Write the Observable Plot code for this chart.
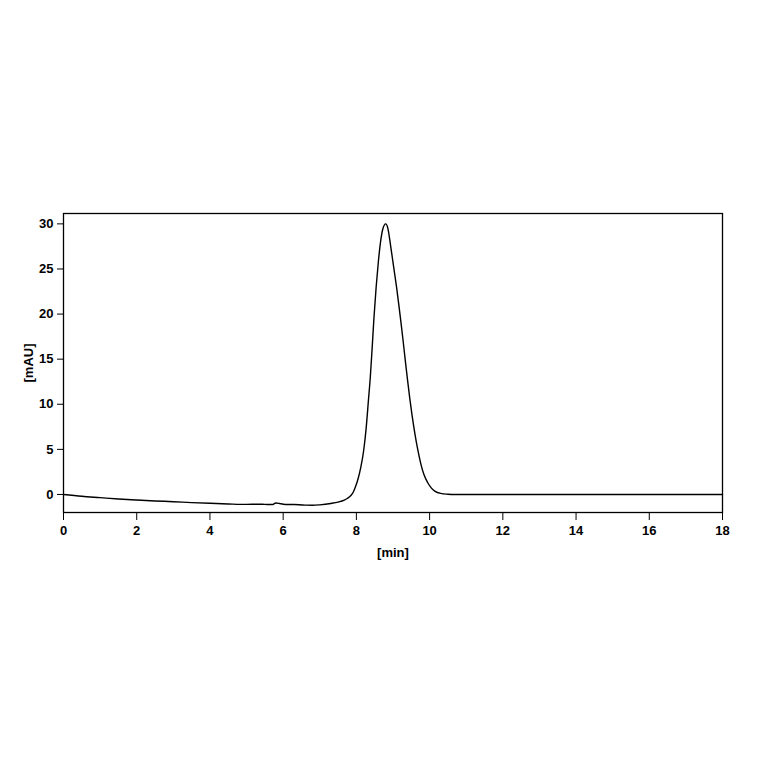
<!DOCTYPE html>
<html>
<head>
<meta charset="utf-8">
<script src="https://cdn.jsdelivr.net/npm/d3@7"></script>
<script src="https://cdn.jsdelivr.net/npm/@observablehq/plot@0.6"></script>
<style>
  html, body { margin: 0; padding: 0; background: #fff; }
</style>
</head>
<body>
<div id="chart"></div>
<script>
const time = [0, 0.5, 1, 1.5, 2, 2.5, 3, 3.5, 4, 4.5, 5, 5.3, 5.5, 5.7, 5.8, 5.9, 6.0, 6.3, 6.6, 6.8, 7.0, 7.3, 7.5, 7.67, 7.75, 7.85, 7.92, 7.98, 8.05, 8.12, 8.2, 8.27, 8.33, 8.38, 8.43, 8.48, 8.54, 8.6, 8.66, 8.72, 8.8, 8.86, 8.92, 8.98, 9.04, 9.1, 9.16, 9.22, 9.28, 9.34, 9.4, 9.46, 9.52, 9.6, 9.67, 9.76, 9.85, 9.95, 10.05, 10.15, 10.3, 10.5, 10.7, 12, 14, 16, 18];
const absorbance = [0, -0.2, -0.35, -0.5, -0.62, -0.72, -0.8, -0.9, -0.98, -1.05, -1.1, -1.08, -1.1, -1.12, -0.95, -1.0, -1.08, -1.12, -1.18, -1.2, -1.15, -1.0, -0.85, -0.63, -0.45, -0.12, 0.3, 0.9, 1.8, 3.0, 4.9, 7.5, 10.5, 13.0, 16.2, 19.6, 23.0, 25.8, 28.0, 29.4, 30.0, 29.5, 28.0, 26.3, 24.6, 22.9, 21.0, 19.0, 16.9, 14.7, 12.6, 10.6, 8.8, 6.7, 5.1, 3.4, 2.15, 1.3, 0.7, 0.35, 0.12, 0.03, 0, 0, 0, 0, 0];
const xTicks = [0, 2, 4, 6, 8, 10, 12, 14, 16, 18];
const yTicks = [0, 5, 10, 15, 20, 25, 30];

const data = time.map((t, i) => ({t, a: absorbance[i]}));

const chart = Plot.plot({
  width: 764,
  height: 764,
  marginLeft: 63,
  marginRight: 42,
  marginTop: 213,
  marginBottom: 252,
  style: {fontFamily: "'Liberation Sans', Arial, sans-serif", fontSize: "13px", fontWeight: "bold", color: "#000", background: "#fff"},
  x: {domain: [0, 18], ticks: xTicks, label: "[min]", labelAnchor: "center", labelArrow: "none", labelOffset: 44, tickSize: 8, tickPadding: 5},
  y: {domain: [-2, 31.15], ticks: yTicks, label: "[mAU]", labelAnchor: "center", labelArrow: "none", labelOffset: 40, tickSize: 6, tickPadding: 4},
  marks: [
    Plot.frame({stroke: "#000", strokeWidth: 1.3}),
    Plot.line(data, {x: "t", y: "a", stroke: "#000", strokeWidth: 1.4, curve: "monotone-x"})
  ]
});
document.getElementById("chart").appendChild(chart);
</script>
</body>
</html>
